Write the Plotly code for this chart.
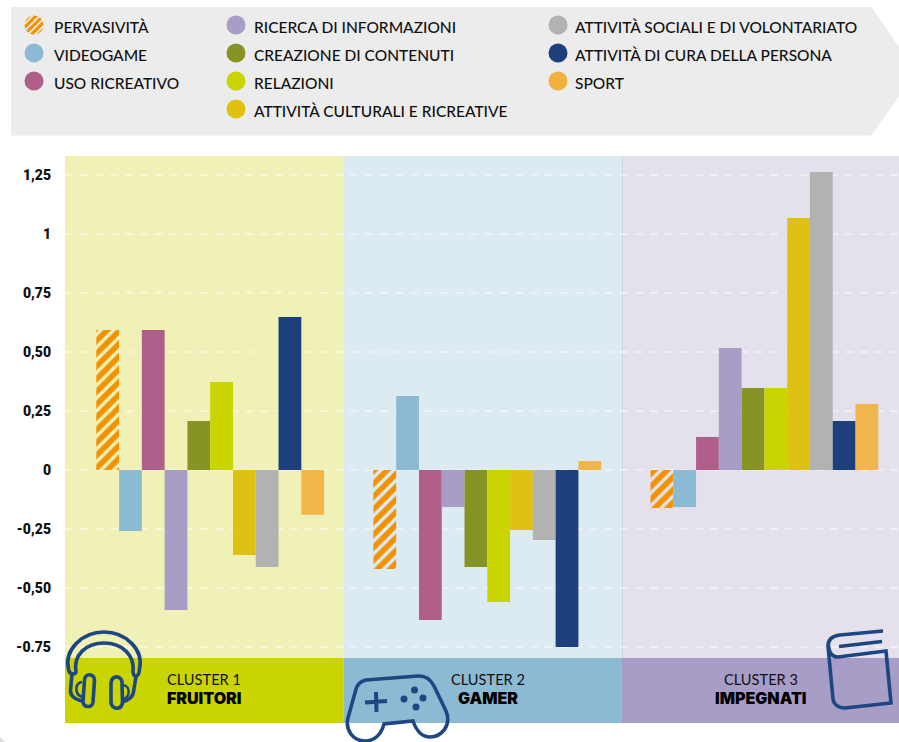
import math
import plotly.graph_objects as go

W, H = 899, 742

clusters = ["CLUSTER 1", "CLUSTER 2", "CLUSTER 3"]
cluster_names = ["FRUITORI", "GAMER", "IMPEGNATI"]

pervasivita = [0.593, -0.42, -0.161]
videogame = [-0.258, 0.314, -0.157]
uso_ricreativo = [0.593, -0.636, 0.14]
ricerca = [-0.593, -0.157, 0.517]
creazione = [0.208, -0.411, 0.347]
relazioni = [0.373, -0.559, 0.347]
culturali = [-0.36, -0.254, 1.068]
sociali = [-0.411, -0.297, 1.263]
cura = [0.648, -0.75, 0.208]
sport = [-0.19, 0.038, 0.28]

series_names = ["PERVASIVITÀ", "VIDEOGAME", "USO RICREATIVO", "RICERCA DI INFORMAZIONI",
                "CREAZIONE DI CONTENUTI", "RELAZIONI", "ATTIVITÀ CULTURALI E RICREATIVE",
                "ATTIVITÀ SOCIALI E DI VOLONTARIATO", "ATTIVITÀ DI CURA DELLA PERSONA", "SPORT"]
series_values = [pervasivita, videogame, uso_ricreativo, ricerca, creazione,
                 relazioni, culturali, sociali, cura, sport]
series_colors = ["#F39200", "#8CBAD3", "#B05F8A", "#A79DC6", "#879324",
                 "#CAD400", "#DFC114", "#B2B2B0", "#1D3F7C", "#F2B03C"]

tick_vals = [1.25, 1, 0.75, 0.5, 0.25, 0, -0.25, -0.5, -0.75]
tick_text = ["1,25", "1", "0,75", "0,50", "0,25", "0", "-0,25", "-0,50", "-0.75"]

band_light = ["#F0F1B6", "#DCEAF2", "#E4E1ED"]
band_dark = ["#CAD400", "#8CBAD3", "#A79DC6"]
ICON = "#1D4683"
LEGEND_BG = "#ECECEC"
TEXT_FONT = "Lato"


def X(p):
    return p / W


def Y(p):
    return 1 - p / H


def path(cmds):
    """Icon path written in screen pixels, converted to paper fractions."""
    out = []
    for c in cmds:
        if isinstance(c, str):
            out.append(c)
        else:
            out.append(f"{X(c[0]):.5f},{Y(c[1]):.5f}")
    return " ".join(out)


shapes = []


def rect(x0, y0, x1, y1, color, layer="below"):
    shapes.append(dict(type="rect", xref="paper", yref="paper", x0=X(x0), x1=X(x1),
                       y0=Y(y1), y1=Y(y0), fillcolor=color, line_width=0, layer=layer))


def circle(cx, cy, r, color, layer="above"):
    shapes.append(dict(type="circle", xref="paper", yref="paper", x0=X(cx - r), x1=X(cx + r),
                       y0=Y(cy + r), y1=Y(cy - r), fillcolor=color, line_width=0, layer=layer))


def icon(cmds, width=3.6, fill="rgba(0,0,0,0)"):
    shapes.append(dict(type="path", xref="paper", yref="paper", path=path(cmds), layer="above",
                       line=dict(color=ICON, width=width), fillcolor=fill))


# legend panel
shapes.append(dict(type="path", xref="paper", yref="paper", layer="below", fillcolor=LEGEND_BG, line_width=0,
                   path=path(["M", (11, 7), "L", (871.5, 7), "L", (899, 47), "L", (899, 96),
                              "L", (871.5, 135.5), "L", (11, 135.5), "Z"])))
# small corner mark
shapes.append(dict(type="path", xref="paper", yref="paper", layer="below", fillcolor="#DDDDDD", line_width=0,
                   path=path(["M", (0, 737), "L", (5, 742), "L", (0, 742), "Z"])))

# cluster bands
edges = [65, 343.7, 622, 899]
for i in range(3):
    rect(edges[i], 156, edges[i + 1], 658, band_light[i])
    rect(edges[i], 658, edges[i + 1], 723, band_dark[i])
shapes.append(dict(type="line", xref="paper", yref="paper", x0=X(622.5), x1=X(622.5), y0=Y(156), y1=Y(658),
                   line=dict(color="#CBD5E5", width=1), layer="below"))

annotations = []


def text(x, y, s, size, family=TEXT_FONT, weight=400, anchor="left", color="#111111"):
    annotations.append(dict(xref="paper", yref="paper", x=X(x), y=Y(y), text=s, showarrow=False,
                            xanchor=anchor, yanchor="middle", align=anchor,
                            font=dict(family=family, size=size, color=color, weight=weight),
                            borderpad=0, borderwidth=0))


# legend entries
legend_slots = [(34, 54, 25), (34, 54, 53), (34, 54, 81),
                (236, 254, 25), (236, 254, 53), (236, 254, 81), (236, 254, 109),
                (558, 575, 25), (558, 575, 53), (558, 575, 81)]
for (cx, tx, cy), name, col in zip(legend_slots, series_names, series_colors):
    circle(cx, cy, 9.5, col)
    text(tx, cy + 2, name, 15.5, weight=500)

# stripes over the first legend swatch
cx, cy, r = legend_slots[0][0], legend_slots[0][2], 9.8
for off in (-7.4, -2.5, 2.4, 7.3):
    half = math.sqrt(max(r * r - off * off, 0))
    ox, oy = cx + off * 0.7071, cy + off * 0.7071
    dx, dy = half * 0.7071, -half * 0.7071
    shapes.append(dict(type="line", xref="paper", yref="paper", layer="above",
                       x0=X(ox - dx), y0=Y(oy - dy), x1=X(ox + dx), y1=Y(oy + dy),
                       line=dict(color=LEGEND_BG, width=1.8)))

# cluster captions
for c, n, x in zip(clusters, cluster_names, [204, 488, 761]):
    text(x, 679, c, 14.6, anchor="center")
    text(x, 698, n, 16, family="Inter", weight=900, anchor="center", color="#000000")

# headphones
icon(["M", (68.5, 669), "C", (64, 650), (82, 632), (104, 632), "C", (126, 632), (144, 650), (139.5, 669),
      "C", (139, 677), (134, 679), (133, 672), "C", (135, 655), (122, 643), (104, 643),
      "C", (86, 643), (73, 655), (76, 672), "C", (75, 675), (69, 675), (68.5, 669), "Z"])
icon(["M", (84.5, 680), "C", (85, 673), (94, 673), (94.5, 680), "L", (93, 702), "C", (92.5, 708), (84, 708), (83, 702), "Z"])
icon(["M", (111, 683), "C", (112, 675), (121, 675), (122, 682), "L", (122.5, 703), "C", (121, 710), (113, 710), (111, 703), "Z"])
icon(["M", (72, 674), "L", (70.5, 690), "C", (70, 696), (74, 699), (82, 701)])
icon(["M", (136, 676), "L", (133.5, 692), "C", (133, 697), (129, 700), (122, 702)])
icon(["M", (82, 682), "C", (75, 683), (74, 694), (82, 697)], width=2.6)
icon(["M", (123, 685), "C", (131, 686), (130, 698), (123, 699)], width=2.6)

# gamepad
icon(["M", (366, 680), "L", (418, 676), "C", (426, 675.5), (431, 680), (434, 686),
      "L", (446, 711), "C", (452, 726), (441, 737), (430, 737), "C", (422, 737), (416, 730), (413, 721),
      "L", (384, 724), "C", (381, 735), (374, 741), (365, 741), "C", (353, 741), (345, 730), (348, 718),
      "L", (356, 689), "C", (358, 683), (361, 681), (366, 680), "Z"], width=3.6)
icon(["M", (365, 702.5), "L", (387, 701), "M", (376, 692), "L", (376.5, 712)], width=4)
for px, py in [(414.5, 690), (404, 699), (423, 698), (416, 707)]:
    circle(px, py, 3.5, ICON)

# book
icon(["M", (883, 631), "L", (840, 635), "C", (832, 636), (828, 640), (828, 646), "L", (833, 699),
      "C", (834, 705), (839, 708), (845, 708), "L", (891, 703), "L", (886, 651), "L", (838, 657),
      "C", (831, 657), (829, 652), (828.5, 646)])
icon(["M", (882, 641.5), "L", (839, 646.5)])

fig = go.Figure()
for i, (name, vals, col) in enumerate(zip(series_names, series_values, series_colors)):
    marker = dict(color=col, line_width=0)
    if i == 0:
        marker["color"] = "rgba(0,0,0,0)"
        marker["pattern"] = dict(shape="/", fgcolor=col, fgopacity=1, bgcolor="rgba(0,0,0,0)",
                                 size=9, solidity=0.62, fillmode="overlay")
    trace_opacity = 0.9 if name == "SPORT" else 1
    fig.add_trace(go.Bar(x=clusters, y=vals, name=name, marker=marker, opacity=trace_opacity))

px_zero, px_per_unit = 470, 236
cat_px = 277.1
cat0_px = 210.2

fig.update_layout(
    width=W, height=H, margin=dict(l=0, r=0, t=0, b=0, pad=0),
    paper_bgcolor="white", plot_bgcolor="rgba(0,0,0,0)",
    barmode="group", bargap=0.178, bargroupgap=0, showlegend=False,
    shapes=shapes, annotations=annotations,
    xaxis=dict(domain=[65 / W, 1], range=[(65 - cat0_px) / cat_px, (W - cat0_px) / cat_px],
               showticklabels=False, showgrid=False, zeroline=False, ticks="", showline=False),
    yaxis=dict(domain=[1 - 723 / H, 1 - 156 / H],
               range=[(px_zero - 723) / px_per_unit, (px_zero - 156) / px_per_unit],
               tickmode="array", tickvals=tick_vals, ticktext=tick_text, ticks="",
               ticklabelstandoff=13, showline=False, zeroline=False,
               showgrid=True, gridcolor="rgba(255,255,255,0.45)", gridwidth=2, griddash="8px,7px",
               tickfont=dict(family="Roboto", size=14, color="#111111", weight=900)),
)

fig.write_html("out.html", config=dict(displayModeBar=False),
               post_script="document.body.style.margin='0';document.body.style.overflow='hidden';")
